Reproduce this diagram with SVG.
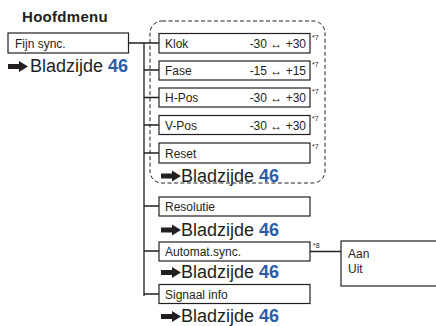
<svg xmlns="http://www.w3.org/2000/svg" width="436" height="326" viewBox="0 0 436 326">
<style>
.box{fill:#fff;stroke:#231f20;stroke-width:1.2}
.ln{fill:none;stroke:#231f20;stroke-width:1.3}
.t{font-family:"Liberation Sans",Arial,sans-serif;font-size:12px;fill:#231f20}
.r{text-anchor:end}
.b{font-family:"Liberation Sans",Arial,sans-serif;font-size:18px;fill:#231f20}
.n{font-weight:bold;fill:#2b5ca8}
.s{font-family:"Liberation Sans",Arial,sans-serif;font-size:7px;fill:#231f20}
.h{font-family:"Liberation Sans",Arial,sans-serif;font-size:15px;font-weight:bold;fill:#231f20;letter-spacing:0.3px}
</style>
<defs>
<path id="arr" d="M0,-2.5 H11 V-5.5 L20,0 L11,5.5 V2.5 H0 Z" fill="#231f20"/>
</defs>
<text class="h" x="22" y="22">Hoofdmenu</text>
<g id="connectors">
<path class="ln" d="M128,43 H144 V296 M144,43 H159 M144,70 H159 M144,97.5 H159 M144,125 H159 M144,153 H159 M144,206 H159 M144,251 H159 M144,294 H159 M310,251.5 H341"/>
<rect x="150" y="21" width="175" height="162" rx="12" fill="none" stroke="#231f20" stroke-width="1" stroke-dasharray="4,2.5"/>
</g>
<g id="fijn">
<rect class="box" x="8" y="33" width="120.5" height="20"/>
<text class="t" x="15" y="47.5">Fijn sync.</text>
<use href="#arr" x="8" y="66.5"/>
<text class="b" x="30" y="72">Bladzijde <tspan class="n">46</tspan></text>
</g>
<g id="klok">
<rect class="box" x="159" y="33.5" width="151" height="19.5"/>
<text class="t" x="165" y="47.5">Klok</text>
<text class="t r" x="306" y="47.5">-30 ↔ +30</text>
<text class="s" x="312" y="39.5">*7</text>
</g>
<g id="fase">
<rect class="box" x="159" y="61" width="151" height="19"/>
<text class="t" x="165" y="75">Fase</text>
<text class="t r" x="306" y="75">-15 ↔ +15</text>
<text class="s" x="312" y="66.5">*7</text>
</g>
<g id="hpos">
<rect class="box" x="159" y="88" width="151" height="19"/>
<text class="t" x="165" y="102">H-Pos</text>
<text class="t r" x="306" y="102">-30 ↔ +30</text>
<text class="s" x="312" y="93.5">*7</text>
</g>
<g id="vpos">
<rect class="box" x="159" y="115.5" width="151" height="19"/>
<text class="t" x="165" y="129.5">V-Pos</text>
<text class="t r" x="306" y="129.5">-30 ↔ +30</text>
<text class="s" x="312" y="121">*7</text>
</g>
<g id="reset">
<rect class="box" x="159" y="143" width="151" height="20"/>
<text class="t" x="165" y="157.5">Reset</text>
<text class="s" x="312" y="148.5">*7</text>
<use href="#arr" x="161" y="176"/>
<text class="b" x="181" y="181.5">Bladzijde <tspan class="n">46</tspan></text>
</g>
<g id="resolutie">
<rect class="box" x="159" y="197" width="151" height="19"/>
<text class="t" x="165" y="211">Resolutie</text>
<use href="#arr" x="161" y="230"/>
<text class="b" x="181" y="235.5">Bladzijde <tspan class="n">46</tspan></text>
</g>
<g id="automat">
<rect class="box" x="159" y="242" width="151" height="19"/>
<text class="t" x="165" y="256">Automat.sync.</text>
<text class="s" x="313" y="247.5">*8</text>
<use href="#arr" x="161" y="272.5"/>
<text class="b" x="181" y="278">Bladzijde <tspan class="n">46</tspan></text>
</g>
<g id="signaal">
<rect class="box" x="159" y="284.5" width="151" height="19"/>
<text class="t" x="165" y="298.5">Signaal info</text>
<use href="#arr" x="161" y="316.5"/>
<text class="b" x="181" y="322">Bladzijde <tspan class="n">46</tspan></text>
</g>
<g id="aanuit">
<rect class="box" x="341" y="241" width="100" height="45"/>
<text class="t" x="348" y="257.5">Aan</text>
<text class="t" x="348" y="272.5">Uit</text>
</g>
</svg>
